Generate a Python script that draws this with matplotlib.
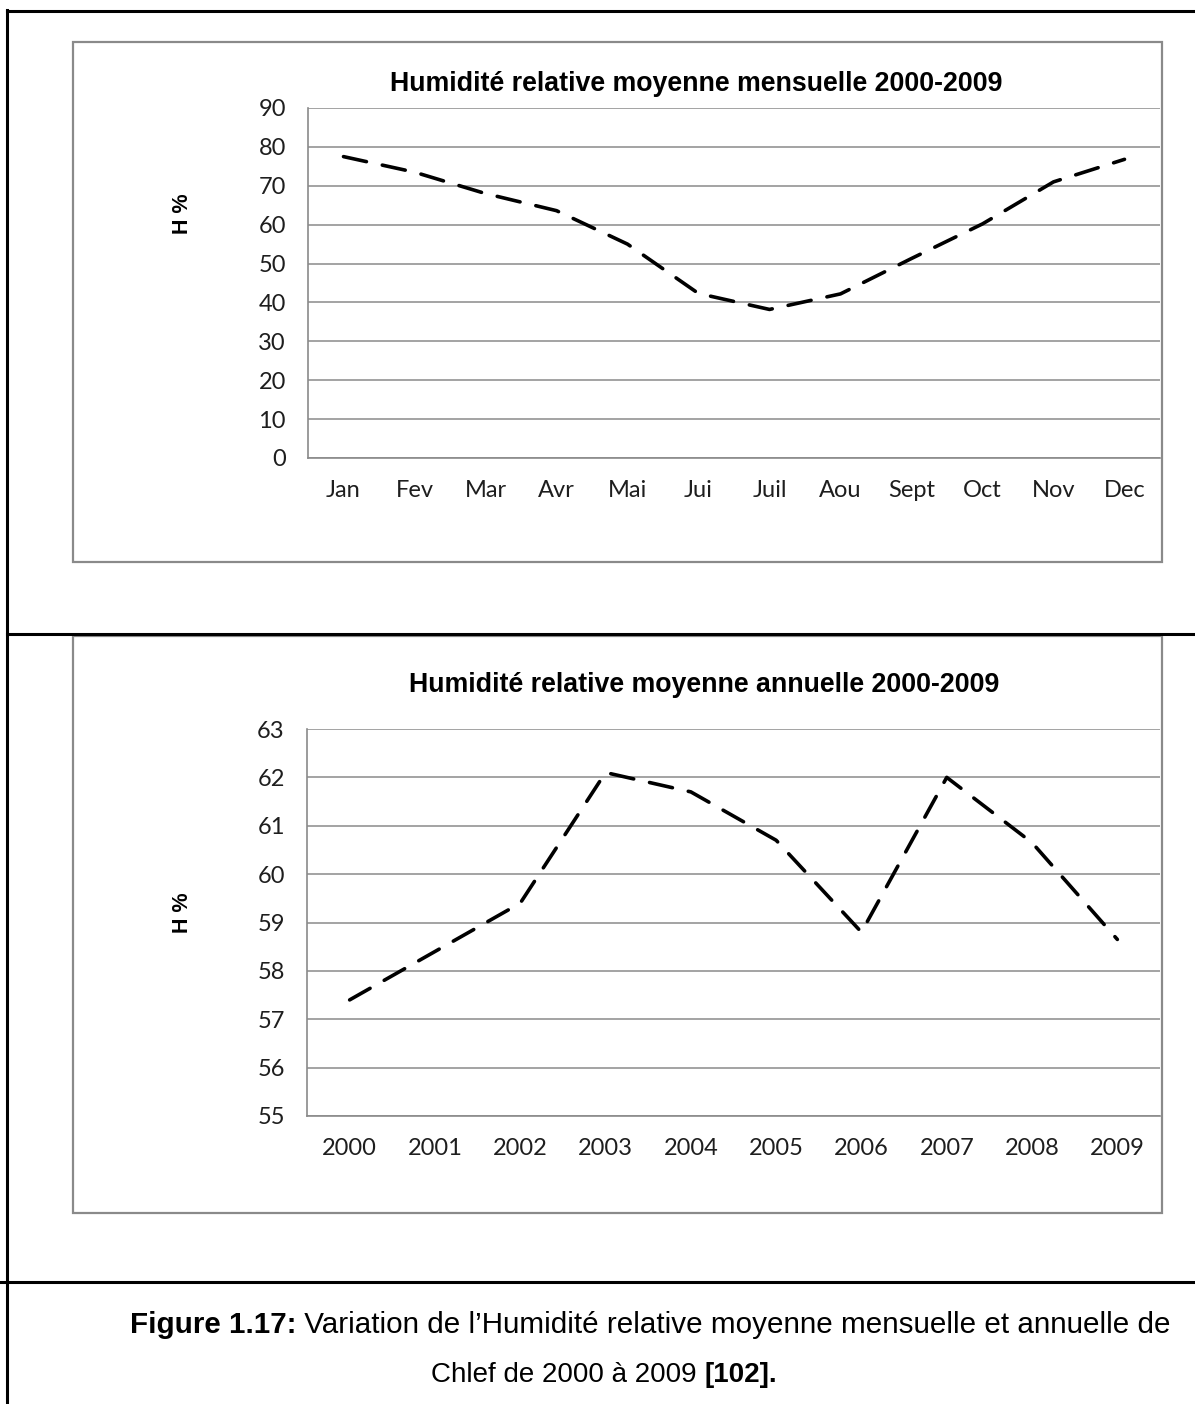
import numpy as np
import matplotlib.pyplot as plt
from matplotlib.lines import Line2D
from matplotlib.patches import Rectangle

# monthly and yearly relative humidity, Chlef 2000-2009
months = ["Jan", "Fev", "Mar", "Avr", "Mai", "Jui", "Juil", "Aou", "Sept", "Oct", "Nov", "Dec"]
h_monthly = [77.5, 73.5, 68.0, 63.6, 55.0, 42.3, 38.2, 42.2, 51.3, 60.2, 71.0, 76.8]

years = ["2000", "2001", "2002", "2003", "2004", "2005", "2006", "2007", "2008", "2009"]
h_yearly = [57.4, 58.4, 59.4, 62.1, 61.7, 60.7, 58.8, 62.0, 60.65, 58.65]

W, H = 1195, 1404
GREY = "#8a8a8a"
TXT = "#1e1e1e"

def fx(px):
    return px / W

def fy(py):
    return 1 - py / H

def rect(x0, y0, x1, y1):
    return [fx(x0), fy(y1), (x1 - x0) / W, (y1 - y0) / H]

fig = plt.figure(figsize=(W / 100, H / 100), dpi=100)

# table frame around the two charts and the caption
for xs, ys in [((7, 7), (10, H)), ((7, W), (11, 11)), ((7, W), (634, 634)), ((0, W), (1282, 1282))]:
    fig.add_artist(Line2D([fx(x) for x in xs], [fy(y) for y in ys], color="black", lw=2.2))

# chart area boxes
for (x0, y0, x1, y1) in [(73, 42, 1162, 562), (73, 636, 1162, 1213)]:
    fig.add_artist(Rectangle((fx(x0), fy(y1)), (x1 - x0) / W, (y1 - y0) / H,
                             transform=fig.transFigure, facecolor="white",
                             edgecolor=GREY, lw=1.6, zorder=0))


def line_chart(pos, labels, values, ymin, ymax, step):
    ax = fig.add_axes(pos)
    x = np.arange(len(labels))
    ax.plot(x, values, color="black", lw=2.6, dashes=(6.5, 4.5),
            dash_capstyle="round", solid_capstyle="round", zorder=3)
    ax.set_xlim(-0.5, len(labels) - 0.5)
    ax.set_ylim(ymin, ymax)
    ax.set_yticks(np.arange(ymin, ymax + step / 2, step))
    ax.set_xticks(x)
    ax.set_xticklabels(labels)
    ax.yaxis.grid(True, color=GREY, lw=1.1)
    ax.set_axisbelow(True)
    for s in ["top", "right"]:
        ax.spines[s].set_visible(False)
    for s in ["left", "bottom"]:
        ax.spines[s].set_color(GREY)
        ax.spines[s].set_linewidth(1.2)
    ax.tick_params(length=0, pad=16, labelsize=17, labelcolor=TXT)
    for lab in ax.get_xticklabels() + ax.get_yticklabels():
        lab.set_fontfamily("Lato")
    return ax


ax1 = line_chart(rect(308, 108, 1160, 458), months, h_monthly, 0, 90, 10)
ax2 = line_chart(rect(307, 729, 1160, 1116), years, h_yearly, 55, 63, 1)

title_kw = dict(ha="center", va="center", fontsize=19.3, fontweight="bold",
                family="Liberation Sans", color="black")
fig.text(fx(696), fy(84), "Humidité relative moyenne mensuelle 2000-2009", **title_kw)
fig.text(fx(704), fy(685), "Humidité relative moyenne annuelle 2000-2009", **title_kw)

ylab_kw = dict(ha="center", va="center", rotation=90, fontsize=15.5,
               fontweight="bold", family="Liberation Sans", color="black")
fig.text(fx(183), fy(214), "H %", **ylab_kw)
fig.text(fx(183), fy(913), "H %", **ylab_kw)

# caption with bold parts, laid out piece by piece around a centre x
renderer = fig.canvas.get_renderer()
cap_lines = [
    (650, 1325, 21.3, [("Figure 1.17:", "bold"), (" Variation de l’Humidité relative moyenne mensuelle et annuelle de", "normal")]),
    (604, 1375, 20.0, [("Chlef de 2000 à 2009 ", "normal"), ("[102].", "bold")]),
]
for xc, ypix, size, parts in cap_lines:
    texts = []
    for s, w in parts:
        t = fig.text(0, fy(ypix), s, fontsize=size, fontweight=w, family="Liberation Sans",
                     ha="left", va="center", color="black")
        texts.append(t)
    widths = [t.get_window_extent(renderer).width for t in texts]
    xpos = xc - sum(widths) / 2
    for t, wd in zip(texts, widths):
        t.set_x(fx(xpos))
        xpos += wd

fig.savefig("out.png", dpi=100)
